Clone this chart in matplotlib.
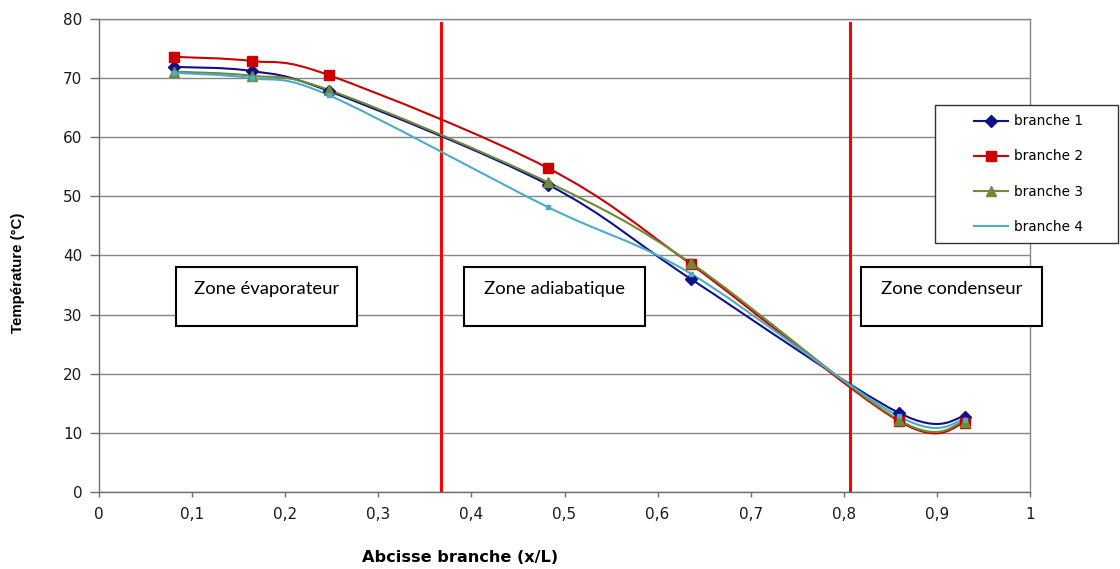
import matplotlib
matplotlib.use("Agg")
import matplotlib.pyplot as plt
import numpy as np
from matplotlib.path import Path
from matplotlib.patches import PathPatch, Rectangle
from matplotlib.lines import Line2D
from matplotlib.ticker import FuncFormatter

plt.rcParams['font.family'] = ['DejaVu Sans']

# données
x_pos = [0.081, 0.164, 0.247, 0.482, 0.636, 0.859, 0.930]
branche_1 = [71.9, 71.2, 67.8, 52.0, 36.0, 13.4, 12.7]
branche_2 = [73.6, 72.9, 70.5, 54.8, 38.5, 12.0, 11.6]
branche_3 = [71.1, 70.4, 68.0, 52.4, 38.7, 12.2, 11.9]
branche_4 = [70.9, 70.0, 67.1, 48.2, 36.9, 12.8, 12.2]
labels = ["branche 1", "branche 2", "branche 3", "branche 4"]
x_zones = [0.367, 0.807]
zones = ["Zone évaporateur", "Zone adiabatique", "Zone condenseur"]

colors = ["#10108a", "#cc0000", "#6e8a36", "#4bacc6"]
markers = ["D", "s", "^", "s"]
msizes = [6, 7.5, 7, 3]

W, H = 1120, 569
fig = plt.figure(figsize=(W / 100, H / 100), dpi=100)
ax = fig.add_axes([99 / W, 1 - 492 / H, 931 / W, 473 / H])


def smooth_path(x, y):
    # lissage type Excel (Bezier cubique, Catmull-Rom)
    p = np.column_stack([x, y])
    n = len(p)
    verts, codes = [p[0]], [Path.MOVETO]
    for i in range(n - 1):
        p0, p1 = p[max(i - 1, 0)], p[i]
        p2, p3 = p[i + 1], p[min(i + 2, n - 1)]
        verts += [p1 + (p2 - p0) / 6, p2 - (p3 - p1) / 6, p2]
        codes += [Path.CURVE4] * 3
    return Path(verts, codes)


handles = []
for y, c, m, ms, lab in zip([branche_1, branche_2, branche_3, branche_4],
                            colors, markers, msizes, labels):
    ax.add_patch(PathPatch(smooth_path(x_pos, y), facecolor="none",
                           edgecolor=c, lw=1.5, zorder=3))
    ax.plot(x_pos, y, linestyle="none", marker=m, ms=ms, color=c, zorder=4)
    if lab == "branche 4":
        handles.append(Line2D([], [], color=c, lw=1.5))
    else:
        handles.append(Line2D([], [], color=c, lw=1.5, marker=m, ms=ms))

for xv in x_zones:
    ax.axvline(xv, ymin=0, ymax=79.3 / 80, color="#ff0000", lw=2.2, zorder=2)

ax.set_xlim(0, 1)
ax.set_ylim(0, 80)
ax.set_xticks(np.arange(0, 1.01, 0.1))
ax.set_yticks(np.arange(0, 81, 10))
ax.xaxis.set_major_formatter(FuncFormatter(
    lambda v, p: f"{int(round(v))}" if round(v, 3) in (0, 1) else f"{v:.1f}".replace(".", ",")))
ax.yaxis.grid(True, color="#868686", lw=1)
ax.set_axisbelow(True)
for s in ax.spines.values():
    s.set_color("#868686")
    s.set_linewidth(1)
ax.spines["left"].set_color("#6e6e6e")
ax.spines["bottom"].set_color("#6e6e6e")
ax.tick_params(axis="both", direction="out", width=1, color="#6e6e6e",
               labelsize=11, labelcolor="#1a1a1a")
ax.tick_params(axis="y", length=6.5, pad=5.5)
ax.tick_params(axis="x", length=3.6, pad=7.5)

fig.text(460 / W, 1 - 557 / H, "Abcisse branche (x/L)", ha="center",
         va="center", fontsize=11.6, fontweight="bold")
fig.text(18 / W, 1 - 273 / H, "Température (°C)", ha="center", va="center",
         rotation=90, fontsize=10.8, fontweight="bold",
         family="Liberation Sans")

# cadres des zones
for lab, x0 in zip(zones, [176, 464, 861]):
    fig.add_artist(Rectangle((x0 / W, 1 - 326 / H), 181 / W, 59 / H,
                             transform=fig.transFigure, facecolor="white",
                             edgecolor="black", lw=1.5, zorder=5))
    fig.text((x0 + 90.5) / W, 1 - 289 / H, lab, ha="center", va="center",
             fontsize=13.3, family="Lato", zorder=6)

# légende
fig.add_artist(Rectangle((935 / W, 1 - 243 / H), 183 / W, 138 / H,
                         transform=fig.transFigure, facecolor="white",
                         edgecolor="#333333", lw=1, zorder=5))
leg = fig.legend(handles, labels, loc="center",
                 bbox_to_anchor=(937 / W, 1 - 243 / H, 183 / W, 138 / H),
                 bbox_transform=fig.transFigure, frameon=False, fontsize=9.8,
                 handlelength=2.5, handletextpad=0.45, labelspacing=1.55)
leg.set_zorder(6)

fig.savefig("out.png", dpi=100)
